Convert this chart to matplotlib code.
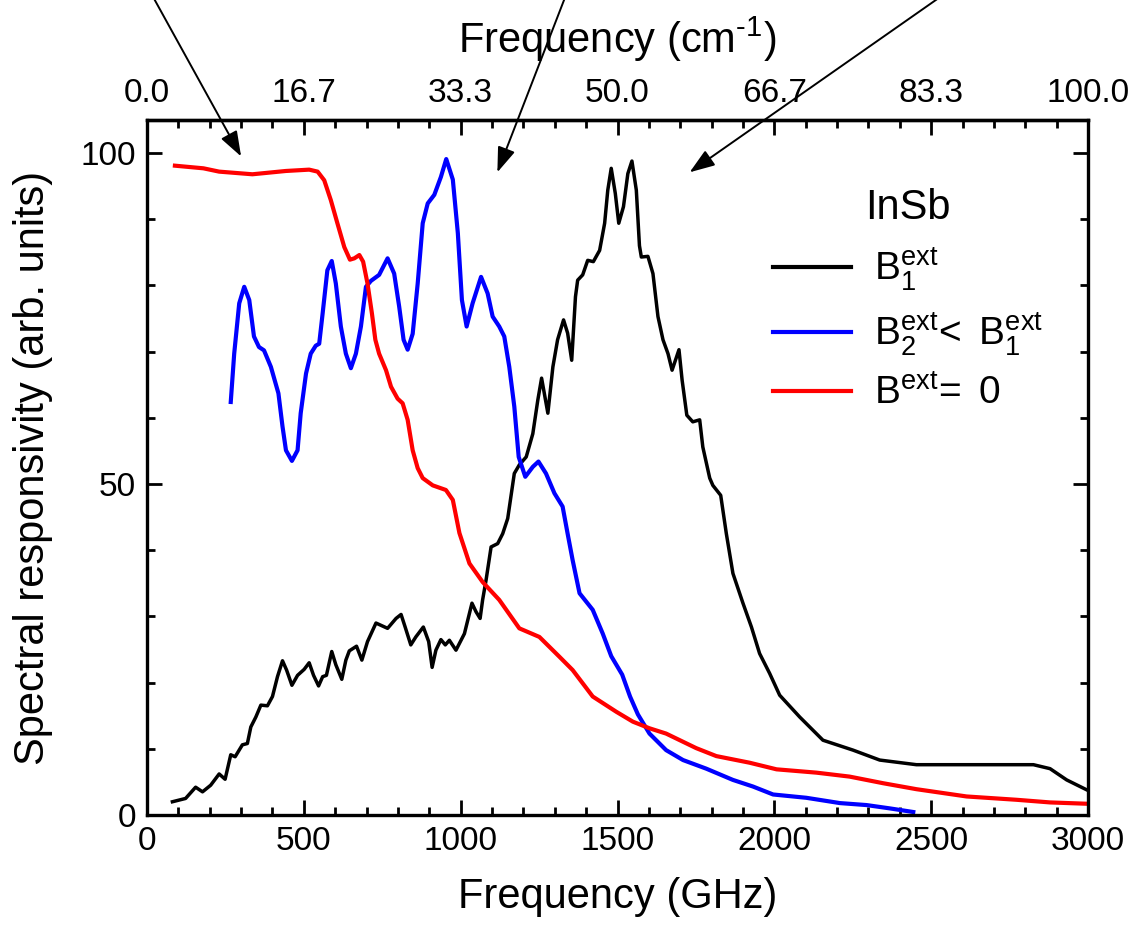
import numpy as np
import matplotlib
matplotlib.use("Agg")
import matplotlib.pyplot as plt
from matplotlib.ticker import FixedLocator

plt.rcParams['font.family'] = ['Liberation Sans', 'DejaVu Sans']
plt.rcParams['mathtext.fontset'] = 'custom'
plt.rcParams['mathtext.rm'] = 'Liberation Sans'
plt.rcParams['mathtext.it'] = 'Liberation Sans:italic'

# ---- data ----
black_x = [81, 123, 155, 177, 203, 230, 249, 267, 281, 304, 320, 331, 347, 363, 384, 400, 416,
           432, 445, 462, 480, 501, 517, 531, 547, 560, 572, 589, 602, 621, 634, 645, 668, 685,
           703, 730, 767, 794, 810, 823, 841, 857, 881, 898, 909, 921, 937, 951, 964, 985, 1012,
           1036, 1049, 1062, 1070, 1081, 1097, 1118, 1134, 1150, 1171, 1187, 1209, 1230, 1246,
           1258, 1278, 1294, 1309, 1328, 1341, 1354, 1366, 1373, 1389, 1405, 1423, 1443, 1459,
           1469, 1480, 1493, 1504, 1519, 1533, 1546, 1560, 1570, 1576, 1597, 1613, 1629, 1645,
           1661, 1674, 1696, 1706, 1721, 1740, 1762, 1772, 1794, 1804, 1829, 1847, 1868, 1900,
           1927, 1953, 1985, 2017, 2081, 2155, 2251, 2336, 2453, 2613, 2826, 2879, 2932, 2996]
black_y = [2.0, 2.5, 4.2, 3.5, 4.5, 6.2, 5.4, 9.1, 8.8, 10.6, 10.8, 13.3, 14.8, 16.6, 16.5, 17.9,
           20.9, 23.3, 21.9, 19.6, 21.1, 22.0, 23.0, 21.1, 19.5, 20.9, 21.1, 24.7, 22.7, 20.5,
           23.4, 24.8, 25.5, 23.4, 26.2, 29.0, 28.2, 29.7, 30.3, 28.4, 25.7, 26.9, 28.4, 26.2,
           22.3, 24.9, 26.5, 25.7, 26.4, 24.9, 27.4, 32.0, 30.7, 29.7, 32.5, 35.5, 40.5, 41.0,
           42.5, 44.8, 51.6, 52.9, 54.1, 57.6, 62.7, 66.0, 60.7, 67.7, 71.8, 74.8, 72.8, 68.7,
           78.3, 80.8, 81.6, 83.8, 83.6, 85.3, 89.4, 94.4, 97.7, 93.9, 89.4, 91.9, 96.9, 98.8,
           94.4, 86.0, 84.3, 84.4, 81.8, 75.3, 71.8, 69.7, 67.2, 70.3, 65.7, 60.4, 59.4, 59.7,
           55.6, 50.9, 49.8, 48.3, 42.5, 36.5, 32.0, 28.4, 24.4, 21.4, 18.1, 14.8, 11.3, 9.8,
           8.3, 7.6, 7.6, 7.6, 7.0, 5.3, 3.8]

blue_x = [267, 278, 294, 310, 326, 341, 357, 373, 395, 419, 432, 443, 462, 480, 490, 507, 522,
          538, 549, 560, 575, 589, 602, 618, 634, 650, 666, 682, 698, 714, 740, 767, 788, 804,
          818, 831, 847, 863, 879, 895, 916, 937, 954, 975, 991, 1004, 1019, 1038, 1065, 1086,
          1102, 1123, 1139, 1155, 1171, 1185, 1206, 1230, 1248, 1272, 1299, 1325, 1341, 1357,
          1379, 1421, 1453, 1480, 1515, 1540, 1565, 1602, 1655, 1709, 1783, 1868, 1932, 1996,
          2102, 2209, 2294, 2368, 2443]
blue_y = [62.4, 69.7, 77.3, 79.8, 77.8, 72.3, 70.7, 70.2, 67.7, 63.7, 58.7, 55.1, 53.5, 55.1,
          60.7, 66.7, 69.7, 70.9, 71.2, 75.8, 82.3, 83.7, 80.3, 73.8, 69.7, 67.5, 69.7, 73.8,
          79.8, 80.7, 81.6, 84.1, 81.8, 76.8, 71.8, 70.3, 72.7, 80.3, 89.4, 92.4, 93.7, 96.4,
          99.1, 96.0, 87.9, 77.8, 73.8, 77.3, 81.3, 78.8, 75.3, 73.8, 72.3, 67.7, 61.7, 54.1,
          51.1, 52.6, 53.4, 51.6, 48.6, 46.6, 42.5, 38.5, 33.5, 31.0, 27.4, 24.0, 21.2, 17.9,
          15.2, 12.3, 9.8, 8.3, 7.0, 5.3, 4.3, 3.1, 2.6, 1.8, 1.5, 1.0, 0.45]

red_x = [89, 180, 230, 336, 443, 517, 544, 565, 586, 607, 629, 647, 661, 677, 689, 703, 717, 728,
         740, 762, 778, 799, 815, 831, 847, 863, 879, 911, 953, 975, 996, 1028, 1070, 1123, 1187,
         1251, 1315, 1357, 1421, 1496, 1549, 1602, 1655, 1751, 1815, 1921, 2007, 2134, 2240,
         2347, 2453, 2613, 2772, 2879, 2996]
red_y = [98.1, 97.7, 97.2, 96.8, 97.3, 97.5, 97.2, 95.9, 92.9, 89.4, 85.8, 83.9, 84.1, 84.6,
         83.6, 80.3, 75.8, 71.8, 69.7, 67.2, 64.7, 62.9, 62.2, 59.7, 55.1, 52.4, 50.9, 49.8,
         49.1, 47.6, 42.6, 38.0, 35.2, 32.5, 28.2, 26.9, 23.9, 21.9, 17.9, 15.6, 14.1, 13.1,
         12.3, 10.1, 8.9, 7.9, 6.9, 6.4, 5.8, 4.8, 3.9, 2.8, 2.3, 1.9, 1.7]

labels = [r'$\mathrm{B}_1^{\mathrm{ext}}$',
          r'$\mathrm{B}_2^{\mathrm{ext}}\!\mathrm{<\ B}_1^{\mathrm{ext}}$',
          r'$\mathrm{B}^{\mathrm{ext}}\!\mathrm{=\ 0}$']
legend_title = 'InSb'

x_major = [0, 500, 1000, 1500, 2000, 2500, 3000]
y_major = [0, 50, 100]
ghz_per_cm = 30.0

# arrow tips (data coords) and tails (figure pixel coords from top-left)
arrow_tips = [(300, 99.5), (1117, 97.1), (1730, 97.1)]
arrow_tails_px = [(152, -5), (566, -5), (943, -5)]

# ---- figure ----
W, H = 1133, 936
fig = plt.figure(figsize=(W / 100, H / 100), dpi=100)
ax = fig.add_axes([147 / W, 1 - 815 / H, (1088 - 147) / W, (815 - 120) / H])

ax.plot(black_x, black_y, color='black', lw=2.5, solid_joinstyle='round', label=labels[0])
ax.plot(blue_x, blue_y, color='#0000ff', lw=3.0, solid_joinstyle='round', label=labels[1])
ax.plot(red_x, red_y, color='#ff0000', lw=3.0, solid_joinstyle='round', label=labels[2])

ax.set_xlim(0, 3000)
ax.set_ylim(0, 105)
ax.set_xticks(x_major)
ax.xaxis.set_minor_locator(FixedLocator(np.arange(0, 3001, 100)))
ax.set_yticks(y_major)
ax.yaxis.set_minor_locator(FixedLocator(np.arange(0, 101, 10)))

for s in ax.spines.values():
    s.set_linewidth(2.4)

ax.tick_params(which='both', direction='in', width=2.0, labelsize=24)
ax.tick_params(axis='x', which='both', top=False, bottom=True, pad=8)
ax.tick_params(axis='y', which='both', left=True, right=True, pad=8)
ax.tick_params(which='major', length=11)
ax.tick_params(which='minor', length=6)

ax.set_xlabel('Frequency (GHz)', fontsize=30, labelpad=14)
ax.set_ylabel('Spectral responsivity (arb. units)', fontsize=30, labelpad=20)

sec = ax.secondary_xaxis('top', functions=(lambda x: x / ghz_per_cm, lambda c: c * ghz_per_cm))
sec.set_xticks(np.array(x_major) / ghz_per_cm)
sec.set_xticklabels(['%.1f' % (v / ghz_per_cm) for v in x_major])
sec.xaxis.set_minor_locator(FixedLocator(np.arange(0, 3001, 100) / ghz_per_cm))
sec.tick_params(which='both', direction='in', width=2.0, labelsize=24, pad=8)
sec.tick_params(which='major', length=11)
sec.tick_params(which='minor', length=6)
sec.spines['top'].set_linewidth(2.4)
sec.set_xlabel(r'Frequency (cm$^{\text{-1}}$)', fontsize=30, labelpad=18)

leg = ax.legend(title=legend_title, loc='upper left',
                bbox_to_anchor=((773 - 147) / (1088 - 147), 1 - (188 - 120) / (815 - 120)),
                frameon=False, fontsize=28, title_fontsize=30, handlelength=2.0,
                handletextpad=0.6, labelspacing=0.45, borderpad=0, borderaxespad=0)
for line in leg.get_lines():
    line.set_linewidth(3.0)

for (tx, ty), (px, py) in zip(arrow_tips, arrow_tails_px):
    ax.annotate('', xy=(tx, ty), xycoords='data',
                xytext=(px / W, 1 - py / H), textcoords='figure fraction',
                arrowprops=dict(arrowstyle='-|>,head_length=0.7,head_width=0.25',
                                mutation_scale=22, color='black', lw=1.4,
                                shrinkA=0, shrinkB=0),
                annotation_clip=False)

fig.savefig('out.png', dpi=100)
